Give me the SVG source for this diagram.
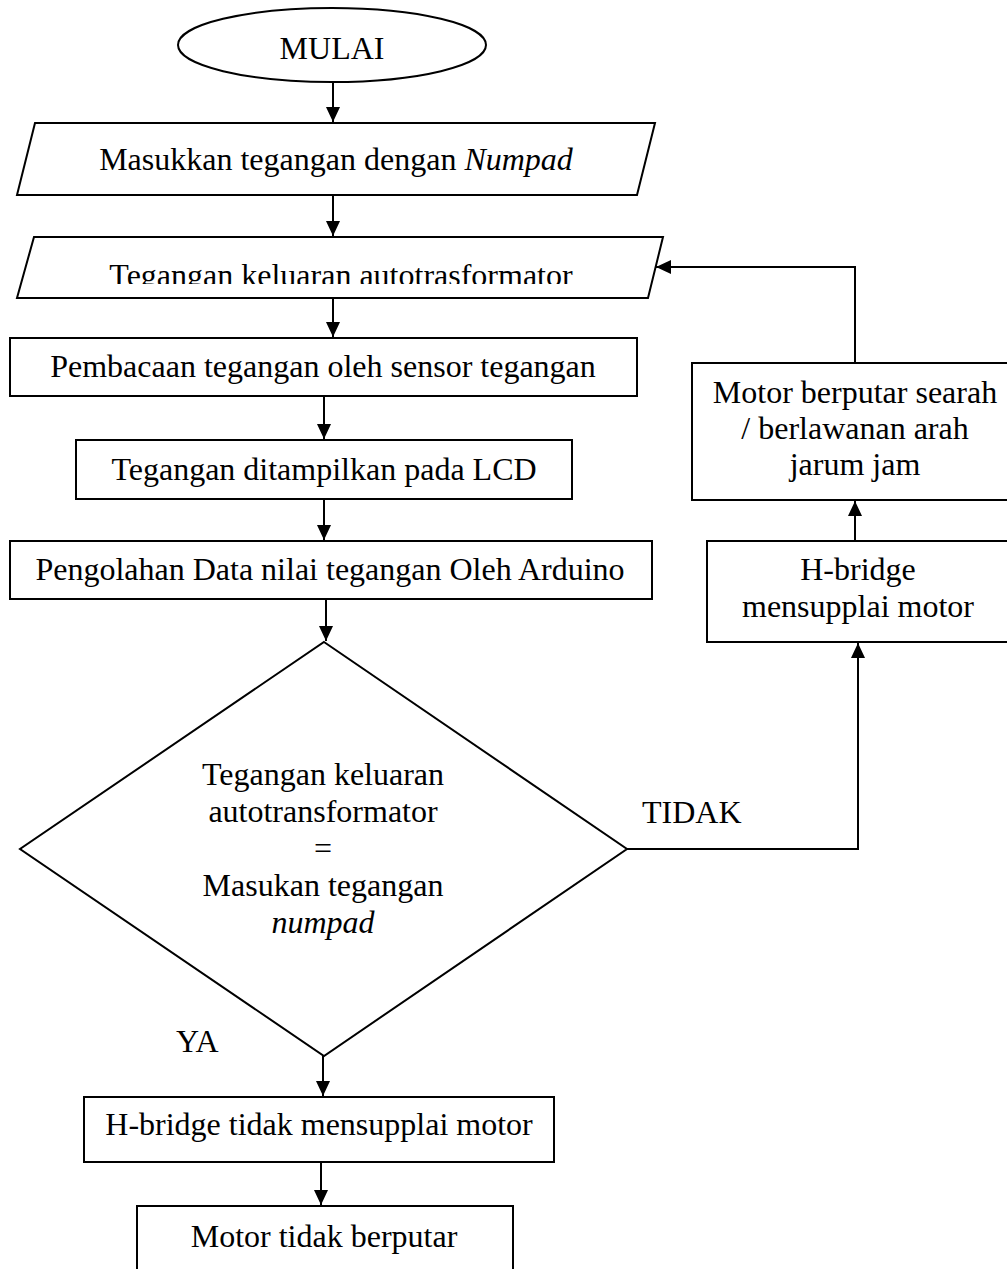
<svg xmlns="http://www.w3.org/2000/svg" width="1007" height="1269" viewBox="0 0 1007 1269">
<style>
.s{fill:#fff;stroke:#000;stroke-width:2}
.c{fill:none;stroke:#000;stroke-width:2}
.t{font-family:"Liberation Serif","Times New Roman",serif;font-size:32px;fill:#000;text-anchor:middle}
.l{text-anchor:start}
.i{font-style:italic}
</style>
<defs>
<marker id="ah" markerUnits="userSpaceOnUse" markerWidth="16" markerHeight="14" refX="15" refY="7" orient="auto">
<path d="M0,0 L15,7 L0,14 z" fill="#000"/>
</marker>
<clipPath id="clipP2"><rect x="0" y="237" width="700" height="47"/></clipPath>
</defs>
<rect width="1007" height="1269" fill="#fff"/>
<g id="connectors">
<line class="c" x1="333" y1="82" x2="333" y2="122" marker-end="url(#ah)"/>
<line class="c" x1="333" y1="195" x2="333" y2="236" marker-end="url(#ah)"/>
<line class="c" x1="333" y1="298" x2="333" y2="337" marker-end="url(#ah)"/>
<line class="c" x1="324" y1="396" x2="324" y2="439" marker-end="url(#ah)"/>
<line class="c" x1="324" y1="499" x2="324" y2="540" marker-end="url(#ah)"/>
<line class="c" x1="326" y1="599" x2="326" y2="641" marker-end="url(#ah)"/>
<line class="c" x1="323" y1="1056" x2="323" y2="1096" marker-end="url(#ah)"/>
<line class="c" x1="321" y1="1162" x2="321" y2="1205" marker-end="url(#ah)"/>
<polyline class="c" points="627,849 858,849 858,643" marker-end="url(#ah)"/>
<line class="c" x1="855" y1="541" x2="855" y2="501" marker-end="url(#ah)"/>
<polyline class="c" points="855,363 855,267 656,267" marker-end="url(#ah)"/>
<text class="t l" x="642" y="823">TIDAK</text>
<text class="t l" x="176" y="1052">YA</text>
</g>
<g id="mulai">
<ellipse class="s" cx="332" cy="45" rx="154" ry="37"/>
<text class="t" x="332" y="59">MULAI</text>
</g>
<g id="input-numpad">
<polygon class="s" points="35,123 655,123 637,195 17,195"/>
<text class="t" x="336" y="170">Masukkan tegangan dengan <tspan class="i">Numpad</tspan></text>
</g>
<g id="output-auto">
<polygon class="s" points="34,237 663,237 648,298 17,298"/>
<text class="t" x="341" y="286" clip-path="url(#clipP2)">Tegangan keluaran autotrasformator</text>
</g>
<g id="sensor">
<rect class="s" x="10" y="338" width="627" height="58"/>
<text class="t" x="323" y="377">Pembacaan tegangan oleh sensor tegangan</text>
</g>
<g id="lcd">
<rect class="s" x="76" y="440" width="496" height="59"/>
<text class="t" x="324" y="480">Tegangan ditampilkan pada LCD</text>
</g>
<g id="arduino">
<rect class="s" x="10" y="541" width="642" height="58"/>
<text class="t" x="330" y="580">Pengolahan Data nilai tegangan Oleh Arduino</text>
</g>
<g id="decision">
<polygon class="s" points="324,642 627,849 324,1056 20,849"/>
<text class="t" x="323" y="785">Tegangan keluaran</text>
<text class="t" x="323" y="822">autotransformator</text>
<text class="t" x="323" y="859">=</text>
<text class="t" x="323" y="896">Masukan tegangan</text>
<text class="t i" x="323" y="933">numpad</text>
</g>
<g id="hbridge-off">
<rect class="s" x="84" y="1097" width="470" height="65"/>
<text class="t" x="319" y="1135">H-bridge tidak mensupplai motor</text>
</g>
<g id="motor-stop">
<rect class="s" x="137" y="1206" width="376" height="80"/>
<text class="t" x="324" y="1247">Motor tidak berputar</text>
</g>
<g id="hbridge-on">
<rect class="s" x="707" y="541" width="310" height="101"/>
<text class="t" x="858" y="580">H-bridge</text>
<text class="t" x="858" y="617">mensupplai motor</text>
</g>
<g id="motor-turn">
<rect class="s" x="692" y="363" width="325" height="137"/>
<text class="t" x="855" y="403">Motor berputar searah</text>
<text class="t" x="855" y="439">/ berlawanan arah</text>
<text class="t" x="855" y="475">jarum jam</text>
</g>
</svg>
